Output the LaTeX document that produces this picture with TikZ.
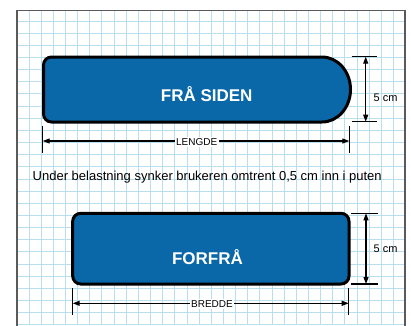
\documentclass[tikz,border=0pt]{standalone}
\usepackage{fontspec}
\setmainfont{Liberation Sans}
\usetikzlibrary{arrows.meta}
\definecolor{gridblue}{RGB}{185,222,238}
\definecolor{padblue}{RGB}{10,103,168}
\definecolor{framegray}{RGB}{90,90,90}
\tikzset{
  x=1pt,y=1pt,
  gridline/.style={draw=gridblue,line width=0.9pt},
  pad/.style={draw=black,fill=padblue,line width=3pt},
  padlabel/.style={text=white,font=\fontsize{17}{17}\selectfont\bfseries,inner sep=0pt,anchor=base},
  tick/.style={draw=black,line width=1.4pt},
  dimarrow/.style={draw=black,line width=1.1pt,{Triangle[length=7pt,width=5pt]}-{Triangle[length=7pt,width=5pt]}},
  dimlabel/.style={font=\fontsize{10}{10}\selectfont,fill=white,inner sep=1.5pt},
  cmlabel/.style={font=\fontsize{11}{11}\selectfont,inner sep=0pt,anchor=base},
}
\begin{document}
\begin{tikzpicture}
\useasboundingbox (0,0) rectangle (411,-325);
\fill[white] (0,0) rectangle (411,-325);
% grid
\foreach \i in {0,...,31} {
  \pgfmathsetmacro{\gx}{29+12.15*\i}
  \ifdim \gx pt<405pt \draw[gridline] (\gx,-10) -- (\gx,-325); \fi
}
\foreach \j in {0,...,25} {
  \pgfmathsetmacro{\gy}{21+12.15*\j}
  \ifdim \gy pt<325pt \draw[gridline] (17,-\gy) -- (405,-\gy); \fi
}
% frame
\draw[framegray,line width=1.5pt] (17,-326) -- (17,-10.5) -- (405,-10.5) -- (405,-326);

% side view pad
\path[pad] (322,-57) -- (51.5,-57) arc[start angle=90,end angle=180,radius=8]
  -- (43.5,-114) arc[start angle=180,end angle=270,radius=8]
  -- (322,-122) arc[start angle=-90,end angle=90,x radius=28.5,y radius=32.5] -- cycle;
\node[padlabel] (sidetxt) at (206.7,-101) {FRÅ SIDEN};

% side height dimension
\coordinate (sht) at (351.5,-56.7);
\coordinate (sht2) at (377,-56.7);
\coordinate (shb) at (351.5,-121.7);
\coordinate (shb2) at (377,-121.7);
\draw[tick] (sht) -- (sht2);
\draw[tick] (shb) -- (shb2);
\coordinate (sha) at (365.7,-56.7);
\coordinate (shz) at (365.7,-121.7);
\draw[dimarrow] (sha) -- (shz);
\node[cmlabel] (sidecm) at (385.5,-101.5) {5 cm};

% length dimension
\coordinate (l1t) at (42.7,-126);
\coordinate (l1b) at (42.7,-153);
\coordinate (l2t) at (349.3,-126);
\coordinate (l2b) at (349.3,-153);
\draw[tick] (l1t) -- (l1b);
\draw[tick] (l2t) -- (l2b);
\coordinate (la) at (42.7,-141);
\coordinate (lz) at (349.3,-141);
\draw[dimarrow] (la) -- (lz);
\node[dimlabel] (lengde) at (196.7,-142) {LENGDE};

% caption
\node[font=\fontsize{13}{13}\selectfont,inner sep=0pt,anchor=base] (caption) at (207.2,-180.5) {Under belastning synker brukeren omtrent 0,5 cm inn i puten};

% front view pad
\node[pad,rectangle,rounded corners=8pt,minimum width=276.3pt,minimum height=70.7pt,inner sep=0pt] (front) at (210.85,-248.65) {};
\node[padlabel] (fronttxt) at (207.5,-264.3) {FORFRÅ};

% front height dimension
\coordinate (fht) at (351,-213.3);
\coordinate (fht2) at (378,-213.3);
\coordinate (fhb) at (351,-284);
\coordinate (fhb2) at (378,-284);
\draw[tick] (fht) -- (fht2);
\draw[tick] (fhb) -- (fhb2);
\coordinate (fha) at (366,-213.3);
\coordinate (fhz) at (366,-284);
\draw[dimarrow] (fha) -- (fhz);
\node[cmlabel] (frontcm) at (385.5,-252.3) {5 cm};

% width dimension
\coordinate (b1t) at (72.7,-288);
\coordinate (b1b) at (72.7,-315);
\coordinate (b2t) at (348.7,-288);
\coordinate (b2b) at (348.7,-315);
\draw[tick] (b1t) -- (b1b);
\draw[tick] (b2t) -- (b2b);
\coordinate (ba) at (72.7,-303.3);
\coordinate (bz) at (348.7,-303.3);
\draw[dimarrow] (ba) -- (bz);
\node[dimlabel] (bredde) at (212,-304.3) {BREDDE};
\end{tikzpicture}
\end{document}
